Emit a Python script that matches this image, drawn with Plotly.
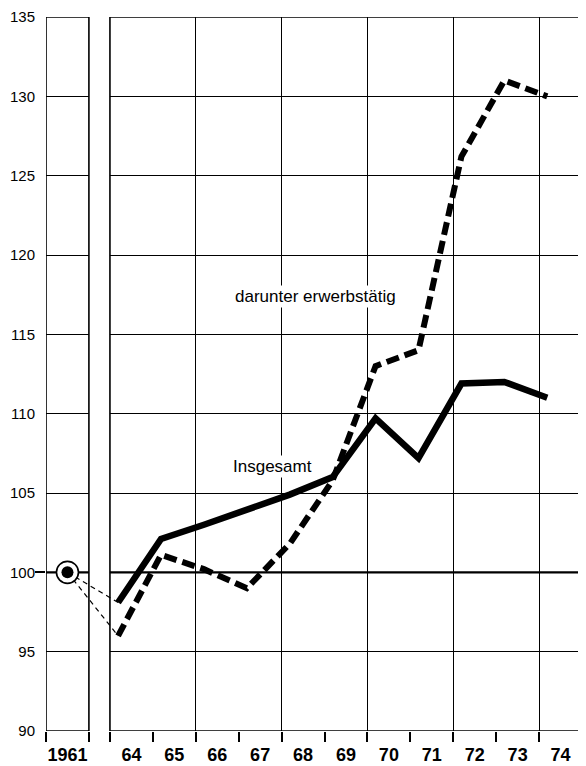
import plotly.graph_objects as go

# --- Data (Index 1961 = 100) ---
base_year = 1961
base_value = 100
years = [1964, 1965, 1966, 1967, 1968, 1969, 1970, 1971, 1972, 1973, 1974]
insgesamt = [98.1, 102.1, 103.0, 103.9, 104.9, 106.0, 109.7, 107.2, 111.9, 112.0, 111.0]
erwerbstaetig = [96.0, 101.1, 100.2, 99.0, 101.8, 105.8, 113.0, 114.0, 126.2, 131.0, 130.0]
x_labels = ['1961', '64', '65', '66', '67', '68', '69', '70', '71', '72', '73', '74']
y_ticks = [90, 95, 100, 105, 110, 115, 120, 125, 130, 135]

# --- Broken x axis: 1961 sits in its own narrow panel left of 1964 ---
SHIFT = 0.19                      # band starts a bit left of the year point
RIGHT_LO = years[0] - SHIFT
RIGHT_HI = years[-1] + 1 - SHIFT
LEFT_HI = RIGHT_LO - 0.49
LEFT_LO = LEFT_HI - 1.0
LEFT_MID = (LEFT_LO + LEFT_HI) / 2


def pos(year):
    return year if year >= years[0] else LEFT_MID


band_edges = [LEFT_LO, LEFT_HI] + [y - SHIFT for y in years] + [RIGHT_HI]
grid_edges = [y - SHIFT for y in years[2::2]]
label_pos = [LEFT_MID] + [y - SHIFT + 0.5 for y in years]

FONT = 'Liberation Sans, Arial, sans-serif'

fig = go.Figure()

# thin dashed connectors from the 1961 base point
for series in (insgesamt, erwerbstaetig):
    fig.add_trace(go.Scatter(
        x=[pos(base_year), pos(years[0])], y=[base_value, series[0]],
        mode='lines', line=dict(color='black', width=1.2, dash='5px,4px'),
        showlegend=False, hoverinfo='skip'))

fig.add_trace(go.Scatter(
    x=[pos(y) for y in years], y=insgesamt, mode='lines', name='Insgesamt',
    line=dict(color='black', width=6.5), showlegend=False))

fig.add_trace(go.Scatter(
    x=[pos(y) for y in years], y=erwerbstaetig, mode='lines',
    name='darunter erwerbstätig', xaxis='x2',
    line=dict(color='black', width=6, dash='13px,6px'), showlegend=False))

# 1961 base point: ringed dot
fig.add_trace(go.Scatter(
    x=[pos(base_year)], y=[base_value], mode='markers', yaxis='y2',
    marker=dict(size=22, color='white', line=dict(color='black', width=1.6)),
    showlegend=False, hoverinfo='skip'))
fig.add_trace(go.Scatter(
    x=[pos(base_year)], y=[base_value], mode='markers', yaxis='y2',
    marker=dict(size=12, color='black'), showlegend=False))

shapes = [
    # blank gap between the panels
    dict(type='rect', xref='x', yref='y', x0=LEFT_HI, x1=RIGHT_LO, y0=90, y1=135,
         fillcolor='white', line=dict(width=0), layer='between'),
]
for x0, x1 in ((LEFT_LO, LEFT_HI), (RIGHT_LO, RIGHT_HI)):
    shapes.append(dict(type='line', xref='x', yref='y', x0=x0, x1=x1, y0=base_value, y1=base_value,
                       line=dict(color='black', width=2.4), layer='between'))
    shapes.append(dict(type='rect', xref='x', yref='y', x0=x0, x1=x1, y0=90, y1=135,
                       line=dict(color='black', width=1.6), fillcolor='rgba(0,0,0,0)',
                       layer='above'))

# page body adds an 8px offset, so the figure is 8px smaller than the window
fig.update_layout(
    width=578, height=758,
    margin=dict(l=38, r=4, t=9, b=35),
    paper_bgcolor='white', plot_bgcolor='white',
    font=dict(family=FONT, color='black'),
    shapes=shapes,
    xaxis=dict(
        range=[LEFT_LO, RIGHT_HI], showgrid=False, zeroline=False, automargin=False,
        tickmode='array', tickvals=label_pos, ticktext=x_labels, ticklabeloverflow='allow',
        ticks='outside', ticklen=7, tickcolor='rgba(0,0,0,0)',
        tickfont=dict(family=FONT, size=18, color='black', weight='bold'),
        minor=dict(tickmode='array', tickvals=band_edges, ticks='outside',
                   ticklen=10, tickwidth=1.6, tickcolor='black', showgrid=False),
    ),
    xaxis2=dict(
        range=[LEFT_LO, RIGHT_HI], overlaying='x', showgrid=True, gridcolor='black',
        gridwidth=1.4, tickmode='array', tickvals=grid_edges, showticklabels=False,
        ticks='', zeroline=False, automargin=False,
    ),
    yaxis=dict(
        range=[90, 135], tickmode='array', tickvals=y_ticks, automargin=False,
        showgrid=True, gridcolor='black', gridwidth=1.4, zeroline=False,
        ticks='outside', ticklen=7, tickcolor='rgba(0,0,0,0)', ticklabeloverflow='allow',
        tickfont=dict(family=FONT, size=15, color='black'),
    ),
    yaxis2=dict(
        range=[90, 135], overlaying='y', side='left', tickmode='array', automargin=False,
        tickvals=[base_value], ticks='outside', ticklen=10, tickwidth=1.6,
        tickcolor='black', showticklabels=False, showgrid=False, zeroline=False,
    ),
    annotations=[
        dict(x=1968.59, y=117.4, xref='x', yref='y', text='darunter erwerbstätig',
             showarrow=False, bgcolor='white', font=dict(family=FONT, size=17)),
        dict(x=1967.59, y=106.7, xref='x', yref='y', text='Insgesamt',
             showarrow=False, bgcolor='white', font=dict(family=FONT, size=17)),
    ],
)

fig.write_html('out.html')
